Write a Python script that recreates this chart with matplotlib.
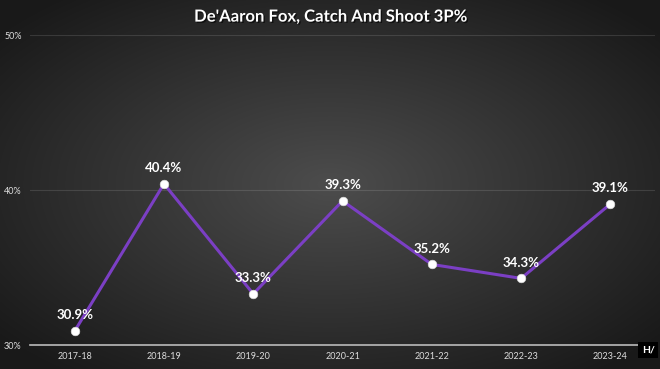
import numpy as np
import matplotlib.pyplot as plt
import matplotlib.patheffects as pe

seasons = ['2017-18', '2018-19', '2019-20', '2020-21', '2021-22', '2022-23', '2023-24']
pct = [30.9, 40.4, 33.3, 39.3, 35.2, 34.3, 39.1]
yticks = [30, 40, 50]

plt.rcParams['font.family'] = ['Lato', 'DejaVu Sans']

fig = plt.figure(figsize=(6.6, 3.69), dpi=100)

# radial gradient background
bg = fig.add_axes([0, 0, 1, 1])
xx, yy = np.meshgrid(np.linspace(-1, 1, 660), np.linspace(-1, 1, 369))
r = np.sqrt(xx ** 2 + yy ** 2)
shade = 0.30 - 0.20 * np.clip(r / 1.3, 0, 1)
bg.imshow(np.dstack([shade] * 3), aspect='auto', extent=[0, 1, 0, 1])
bg.axis('off')

ax = fig.add_axes([0.0455, 0.065, 0.947, 0.84])
ax.patch.set_alpha(0)
x = np.arange(len(seasons))
ax.plot(x, pct, color='#7B3FC4', lw=2.2, zorder=3)
ax.scatter(x, pct, s=38, color='white', zorder=4, edgecolors='#dddddd', linewidths=0.5)
for xi, v in zip(x, pct):
    ax.annotate(f'{v}%', (xi, v), xytext=(0, 7), textcoords='offset points',
                ha='center', va='bottom', color='white', fontsize=9.5, fontweight='bold')

ax.set_xlim(-0.5, len(seasons) - 0.5)
ax.set_ylim(30, 50)
ax.set_yticks(yticks)
ax.set_yticklabels([f'{t}%' for t in yticks])
ax.set_xticks(x)
ax.set_xticklabels(seasons)
ax.tick_params(colors='#dddddd', labelsize=6.5, length=0)
ax.tick_params(axis='y', pad=6)
ax.tick_params(axis='x', pad=5)
ax.grid(axis='y', color='white', alpha=0.12, lw=0.8)
ax.set_axisbelow(True)
for s in ['top', 'right', 'left']:
    ax.spines[s].set_visible(False)
ax.spines['bottom'].set_color('#bbbbbb')
ax.spines['bottom'].set_linewidth(1.2)

fig.text(0.5, 0.955, "De'Aaron Fox, Catch And Shoot 3P%", ha='center', va='center',
         color='white', fontsize=12, fontweight='bold',
         path_effects=[pe.withSimplePatchShadow(offset=(1, -1), shadow_rgbFace='black', alpha=0.6)])

fig.text(0.982, 0.052, 'H/', ha='center', va='center', color='white', fontsize=7.5,
         fontweight='bold', bbox=dict(boxstyle='square,pad=0.35', fc='black', ec='none'))

fig.savefig('out.png', dpi=100)
